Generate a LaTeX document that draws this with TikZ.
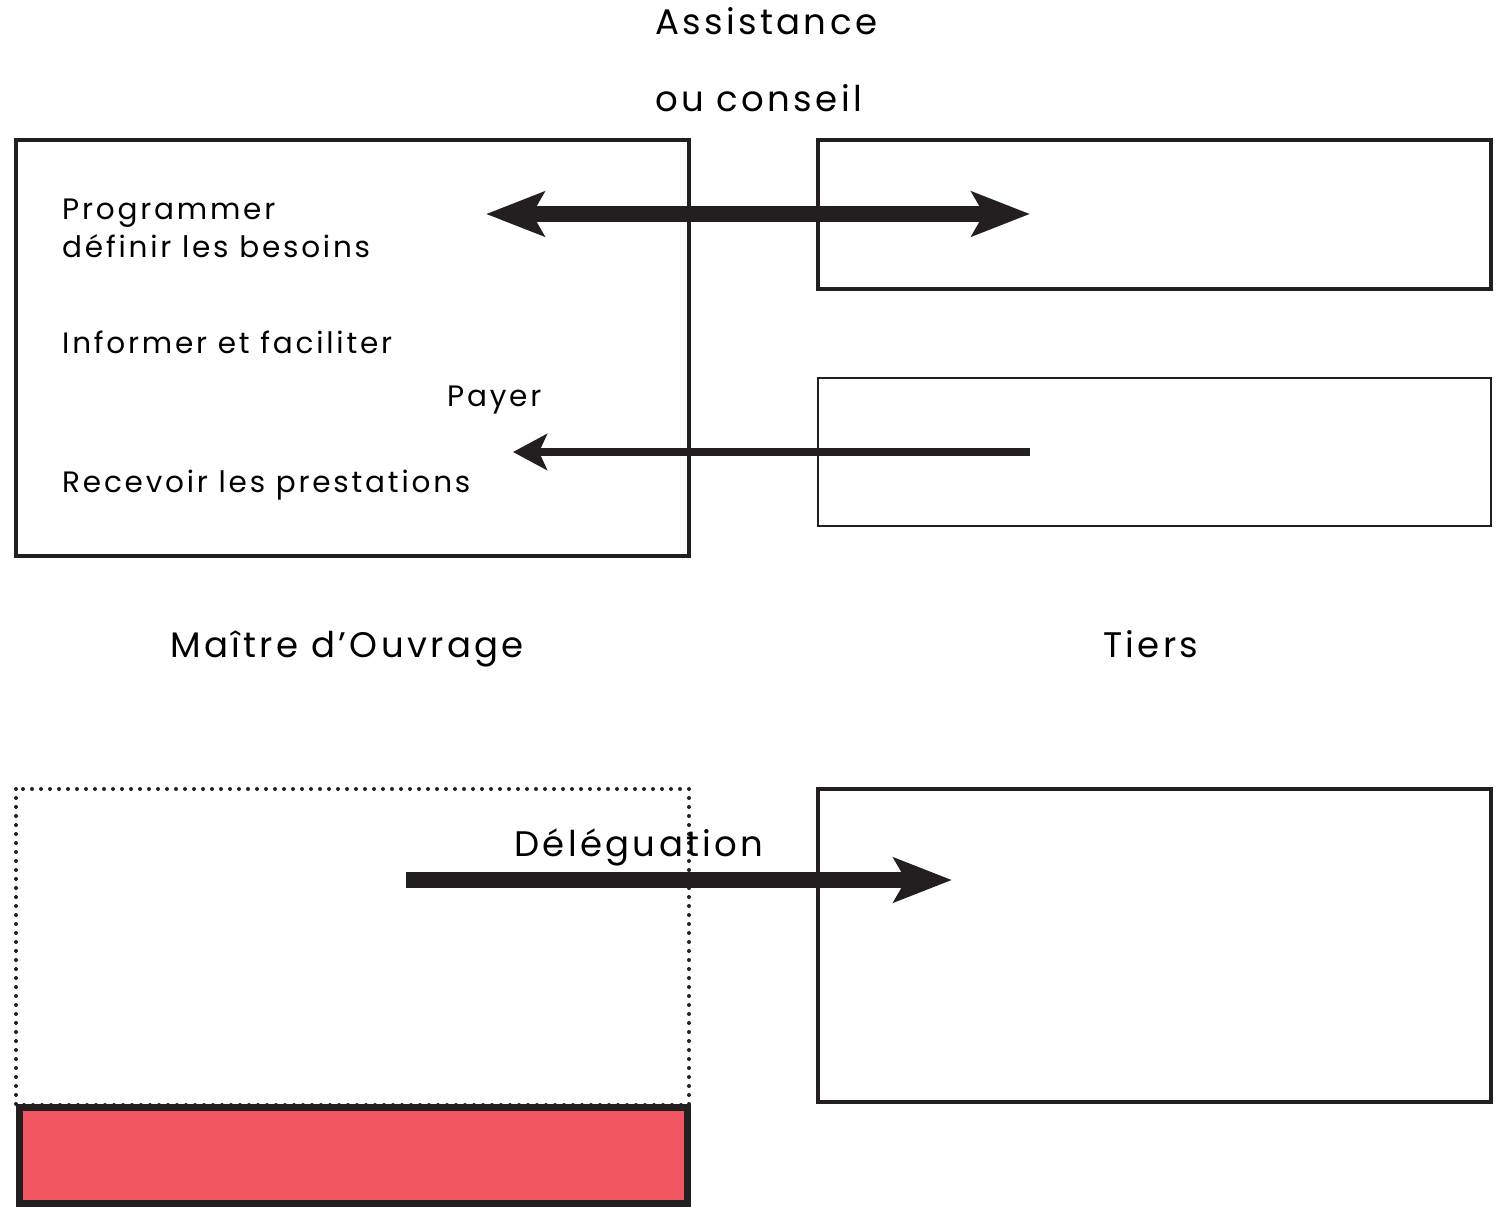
\documentclass[tikz,border=0pt]{standalone}
\usepackage{fontspec}
\setmainfont{Poppins}[LetterSpace=9.5]
\usetikzlibrary{arrows.meta}
\definecolor{ink}{HTML}{231F20}
\definecolor{redfill}{HTML}{F05561}
\begin{document}
\begin{tikzpicture}[x=1pt,y=-1pt,
  frame/.style={draw=ink,line width=4pt},
  thinframe/.style={draw=ink,line width=1.5pt},
  dotframe/.style={draw=ink,line width=4pt,line cap=round,dash pattern=on 0pt off 9pt},
  bigarrow/.style={draw=ink,line width=16pt,-{Stealth[length=58pt,width=44pt,inset=12pt]}},
  bigdouble/.style={draw=ink,line width=16pt,{Stealth[length=58pt,width=44pt,inset=12pt]}-{Stealth[length=58pt,width=44pt,inset=12pt]}},
  smallarrow/.style={draw=ink,line width=8pt,-{Stealth[length=34pt,width=36pt,inset=8pt]}},
  lbl/.style={inner sep=0pt,anchor=base west,font=\fontsize{29.5}{34}\selectfont},
  title/.style={inner sep=0pt,anchor=base west,font=\fontsize{35.5}{40}\selectfont}]
\useasboundingbox (0,0) rectangle (1499,1207);
\fill[white] (0,0) rectangle (1499,1207);

% boxes
\draw[frame] (16,140) rectangle (689,556);
\draw[frame] (818,140) rectangle (1491,289);
\draw[thinframe] (818,378) rectangle (1491,526);
\draw[dotframe] (16,789) rectangle (689,1105);
\draw[draw=ink,line width=7pt,fill=redfill] (19,1107) rectangle (687,1203);
\draw[frame] (818,789) rectangle (1491,1102);

% labels
\node[title] (assist) at (655,35) {Assistance};
\node[title] (conseil) at (655,111) {ou conseil};
\node[lbl] (prog) at (62,219) {Programmer};
\node[lbl] (besoins) at (62,257) {définir les besoins};
\node[lbl] (info) at (62,353) {Informer et faciliter};
\node[lbl] (payer) at (447,406) {Payer};
\node[lbl] (recv) at (62,492) {Recevoir les prestations};
\node[title] (moa) at (170,657) {Maître d’Ouvrage};
\node[title] (tiers) at (1103,657) {Tiers};
\node[title] (deleg) at (514,856) {Déléguation};

% connectors
\coordinate (a1) at (486,214);
\coordinate (a2) at (1030,214);
\draw[bigdouble] (a1) -- (a2);
\coordinate (p1) at (1030,452);
\coordinate (p2) at (513,452);
\draw[smallarrow] (p1) -- (p2);
\coordinate (d1) at (406,880);
\coordinate (d2) at (952,880);
\draw[bigarrow] (d1) -- (d2);
\end{tikzpicture}
\end{document}
